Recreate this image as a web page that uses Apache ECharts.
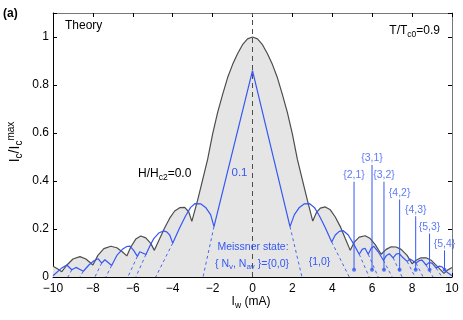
<html>
<head>
<meta charset="utf-8">
<title>Ic vs Iw</title>
<script src="https://cdn.jsdelivr.net/npm/echarts@6/dist/echarts.min.js"></script>
<style>
body { margin: 0; background: #fff; }
#chart { width: 463px; height: 320px; }
</style>
</head>
<body>
<div id="chart"></div>
<script>
// H/Hc2 = 0.0 (grey, filled)
var grayCurve = [
	[-10,0.045],[-9.8,0.035],[-9.56,0.022],[-9.3,0.05],[-9.0,0.075],[-8.65,0.085],[-8.35,0.075],[-8.0,0.05],
	[-7.75,0.09],[-7.45,0.118],[-7.1,0.128],[-6.8,0.122],[-6.5,0.103],[-6.3,0.088],[-6.1,0.125],[-5.85,0.158],
	[-5.6,0.171],[-5.35,0.163],[-5.1,0.14],[-4.92,0.111],[-4.65,0.16],[-4.4,0.205],[-4.15,0.245],[-3.9,0.275],
	[-3.65,0.289],[-3.4,0.29],[-3.2,0.272],[-3.04,0.232],[-2.75,0.32],[-2.5,0.405],[-2.25,0.49],[-2.0,0.595],
	[-1.75,0.685],[-1.5,0.76],[-1.25,0.83],[-1.0,0.885],[-0.75,0.93],[-0.5,0.968],[-0.25,0.992],[0,1.0],
	[0.25,0.992],[0.5,0.968],[0.75,0.93],[1.0,0.885],[1.25,0.83],[1.5,0.76],[1.75,0.685],[2.0,0.595],
	[2.25,0.49],[2.5,0.405],[2.75,0.32],[3.02,0.233],[3.2,0.268],[3.4,0.287],[3.65,0.292],[3.9,0.28],
	[4.15,0.25],[4.4,0.21],[4.65,0.16],[4.9,0.111],[5.1,0.145],[5.35,0.166],[5.65,0.172],[5.9,0.16],
	[6.15,0.135],[6.45,0.095],[6.7,0.115],[6.95,0.126],[7.2,0.125],[7.45,0.115],[7.75,0.09],[8.0,0.055],
	[8.2,0.07],[8.45,0.08],[8.7,0.08],[8.95,0.07],[9.25,0.045],[9.6,0.015],[9.8,0.03],[10,0.04]
];

// H/Hc2 = 0.1 (blue)
var blueCurve = [
	[-10,0.005],[-9.6,0.035],[-9.31,0.05],[-9.06,0.03],[-8.85,0.04],[-8.48,0.024],[-8.2,0.05],[-7.95,0.068],
	[-7.73,0.076],[-7.56,0.058],[-7.4,0.072],[-7.31,0.076],[-7.06,0.048],[-6.8,0.09],[-6.5,0.117],[-6.3,0.127],
	[-6.14,0.129],[-5.95,0.11],[-5.77,0.086],[-5.65,0.105],[-5.55,0.111],[-5.34,0.094],[-5.14,0.13],[-4.95,0.16],
	[-4.7,0.183],[-4.47,0.192],[-4.3,0.188],[-4.15,0.175],[-4.0,0.141],[-3.65,0.205],[-3.35,0.255],[-3.1,0.29],
	[-2.88,0.306],[-2.6,0.305],[-2.35,0.29],[-2.1,0.26],[-1.93,0.21],[0,0.86],[1.88,0.21],[2.1,0.26],
	[2.35,0.29],[2.6,0.305],[2.85,0.306],[3.1,0.29],[3.35,0.255],[3.65,0.205],[3.97,0.146],[4.15,0.175],
	[4.35,0.19],[4.55,0.193],[4.8,0.175],[5.05,0.14],[5.35,0.095],[5.5,0.115],[5.64,0.12],[5.8,0.095],
	[5.95,0.12],[6.08,0.128],[6.3,0.105],[6.56,0.07],[6.72,0.09],[6.86,0.097],[7.05,0.08],[7.2,0.095],
	[7.35,0.098],[7.55,0.08],[7.75,0.065],[7.9,0.075],[8.0,0.078],[8.2,0.058],[8.35,0.068],[8.5,0.07],
	[8.7,0.05],[8.85,0.06],[9.0,0.058],[9.2,0.038],[9.35,0.045],[9.5,0.042],[9.75,0.02],[10,0.005]
];

// dashed continuations of each branch down to zero
var dashFrom = [[1.88,0.21],[3.97,0.146],[5.35,0.095],[5.8,0.095],[6.56,0.07],[7.05,0.08],[7.75,0.065],[8.2,0.058],[8.7,0.05],[9.2,0.038],
	[-1.93,0.21],[-4.0,0.141],[-5.34,0.094],[-5.77,0.086],[-7.06,0.048],[-7.56,0.058],[-8.48,0.024],[-9.06,0.03]];
var dashToX = [2.48,4.85,5.85,6.3,7.0,7.5,8.15,8.55,9.05,9.5,-2.48,-4.85,-5.85,-6.25,-7.35,-7.9,-8.65,-9.25];

// vortex state markers {Nv,Nav}
var annX = [5.09,5.99,6.59,7.375,8.18,8.875,9.625];
var annTop = [0.397,0.467,0.397,0.323,0.253,0.181,0.111];
var annLabel = ['{2,1}','{3,1}','{3,2}','{4,2}','{4,3}','{5,3}','{5,4}'];
var annDotY = 0.03;

var BLUE = '#3557f5';
var GRAY = '#4d4d4d';
var FONT = 'Liberation Sans, Arial, sans-serif';

var chart = echarts.init(document.getElementById('chart'));

var series = [];

series.push({
	type: 'line', data: grayCurve, symbol: 'none', z: 2,
	lineStyle: { color: GRAY, width: 1.2 },
	areaStyle: { color: '#e5e5e5', opacity: 1 }
});

// centre dashed line
series.push({
	type: 'line', data: [[0,0],[0,1.1]], symbol: 'none', z: 3,
	lineStyle: { color: GRAY, width: 1, type: [5,4] }
});

for (var i = 0; i < dashFrom.length; i++) {
	series.push({
		type: 'line', data: [dashFrom[i], [dashToX[i], 0]], symbol: 'none', z: 3,
		lineStyle: { color: BLUE, width: 0.9, type: [3,3] }
	});
}

series.push({
	type: 'line', data: blueCurve, symbol: 'none', z: 4,
	lineStyle: { color: BLUE, width: 1.2 }
});

for (var j = 0; j < annX.length; j++) {
	series.push({
		type: 'line', data: [[annX[j], annDotY],[annX[j], annTop[j]]], symbol: 'none', z: 5,
		lineStyle: { color: BLUE, width: 1 }
	});
}
series.push({
	type: 'scatter', z: 6, symbolSize: 4, itemStyle: { color: BLUE },
	data: annX.map(function (x) { return [x, annDotY]; })
});
series.push({
	type: 'scatter', z: 6, symbolSize: 0,
	data: annX.map(function (x, k) { return [x, annTop[k]]; }),
	label: {
		show: true, position: 'top', distance: 1, color: BLUE, fontSize: 10.5, fontFamily: FONT,
		formatter: function (p) { return annLabel[p.dataIndex]; }
	}
});

function minus(v) { return String(v).replace('-', '\u2212'); }

var sub = { fontSize: 8.5, padding: [7,0,0,0] };

function txt(style, extra) {
	var o = { type: 'text', z: 100, zlevel: 1, style: style };
	for (var k in extra) o[k] = extra[k];
	return o;
}

var option = {
	animation: false,
	grid: { left: 53, right: 11, top: 13, bottom: 43 },
	xAxis: [{
		type: 'value', min: -10, max: 10, interval: 2, position: 'bottom',
		axisLine: { onZero: false, lineStyle: { color: '#000', width: 1 } },
		axisTick: { inside: true, length: 4, lineStyle: { color: '#000' } },
		axisLabel: { color: '#000', fontSize: 12, fontFamily: FONT, margin: 6, formatter: minus },
		splitLine: { show: false }
	}, {
		type: 'value', min: -10, max: 10, interval: 2, position: 'top',
		axisLine: { onZero: false, lineStyle: { color: '#777', width: 1 } },
		axisTick: { inside: true, length: 4, lineStyle: { color: '#000' } },
		axisLabel: { show: false }, splitLine: { show: false }
	}],
	yAxis: [{
		type: 'value', min: 0, max: 1.1, interval: 0.2, position: 'left',
		axisLine: { show: true, onZero: false, lineStyle: { color: '#000', width: 1 } },
		axisTick: { show: true, inside: true, length: 4, lineStyle: { color: '#000' } },
		axisLabel: {
			color: '#000', fontSize: 12, fontFamily: FONT, margin: 4,
			formatter: function (v) { return Math.abs(v * 5 - Math.round(v * 5)) < 1e-6 ? String(+v.toFixed(1)) : ''; }
		},
		splitLine: { show: false }
	}, {
		type: 'value', min: 0, max: 1.1, interval: 0.2, position: 'right',
		axisLine: { show: true, onZero: false, lineStyle: { color: '#777', width: 1 } },
		axisTick: { show: true, inside: true, length: 4, lineStyle: { color: '#000' } },
		axisLabel: { show: false }, splitLine: { show: false }
	}],
	series: series,
	graphic: [
		txt({ text: '(a)', x: 3, y: 14, fill: '#000', fontSize: 12, fontWeight: 'bold', fontFamily: FONT, verticalAlign: 'middle' }),
		txt({ text: 'Theory', x: 65, y: 26, fill: '#000', fontSize: 12, fontFamily: FONT, verticalAlign: 'middle' }),
		txt({ text: 'T/T{s|c0}=0.9', x: 440, y: 31, fill: '#000', fontSize: 12, fontFamily: FONT, align: 'right', verticalAlign: 'middle', rich: { s: sub } }),
		txt({ text: 'H/H{s|c2}=0.0', x: 138, y: 174, fill: '#000', fontSize: 12, fontFamily: FONT, verticalAlign: 'middle', rich: { s: sub } }),
		txt({ text: '0.1', x: 239.5, y: 173, fill: BLUE, fontSize: 11.5, fontFamily: FONT, align: 'center', verticalAlign: 'middle' }),
		txt({ text: 'Meissner state:', x: 253, y: 247.5, fill: BLUE, fontSize: 10.5, fontFamily: FONT, align: 'center', verticalAlign: 'middle' }),
		txt({ text: '{ N{s|v}, N{s|av} }={0,0}', x: 252, y: 264, fill: BLUE, fontSize: 10.5, fontFamily: FONT, align: 'center', verticalAlign: 'middle', rich: { s: { fontSize: 8, padding: [6,0,0,0] } } }),
		txt({ text: '{1,0}', x: 319.5, y: 262, fill: BLUE, fontSize: 10.5, fontFamily: FONT, align: 'center', verticalAlign: 'middle' }),
		txt({ text: 'I{s|w} (mA)', x: 251, y: 302, fill: '#000', fontSize: 12, fontFamily: FONT, align: 'center', verticalAlign: 'middle', rich: { s: sub } }),
		txt({ text: 'I{s|c}/I{s|c}{p|max}', x: 0, y: 0, fill: '#000', fontSize: 14, fontFamily: FONT, align: 'center', verticalAlign: 'middle',
			rich: { s: { fontSize: 10, padding: [8,0,0,0] }, p: { fontSize: 10, padding: [0,0,8,0] } } },
			{ x: 15, y: 142, rotation: Math.PI / 2 })
	]
};

chart.setOption(option);
</script>
</body>
</html>
